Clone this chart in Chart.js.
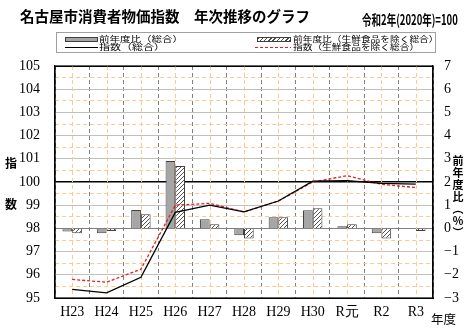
<!DOCTYPE html>
<html><head><meta charset="utf-8">
<script src="https://cdn.jsdelivr.net/npm/chart.js@4"></script>
<style>
body{margin:0;background:#fff;}
#wrap{position:relative;width:473px;height:328px;overflow:hidden;font-family:"Noto Sans CJK JP",sans-serif;color:#000;}
canvas{position:absolute;left:0;top:0;}
.t{position:absolute;white-space:nowrap;line-height:1;}
#legend{position:absolute;left:56px;top:32px;width:378px;height:19px;border:1px solid #a0a0a0;background:#fff;}
.lt{position:absolute;font-size:10px;line-height:10px;white-space:nowrap;transform-origin:0 0;}
.sw{position:absolute;box-sizing:border-box;}
</style></head><body>
<div id="wrap">
<canvas id="c" width="473" height="328"></canvas>
<div class="t" style="left:20px;top:9px;font-size:14.5px;font-weight:bold;">名古屋市消費者物価指数　年次推移のグラフ</div>
<div class="t" style="left:362px;top:12px;font-size:14px;font-weight:bold;transform:scaleX(0.68);transform-origin:0 0;">令和2年(2020年)=100</div>
<div id="legend"></div>
<div class="t" style="left:5px;top:157px;font-size:12px;font-weight:bold;">指</div>
<div class="t" style="left:5px;top:198px;font-size:12px;font-weight:bold;">数</div>
<div class="t" style="left:452px;top:155px;writing-mode:vertical-rl;font-size:11px;font-weight:bold;line-height:11px;letter-spacing:1px;">前年度比（％）</div>
<div class="t" style="left:431px;top:313px;font-size:12.5px;">年度</div>
</div>
<script>
// ---- data ----
const categories = ['H23','H24','H25','H26','H27','H28','H29','H30','R元','R2','R3'];
const yoyTotal   = [-0.13, -0.21, 0.79, 2.90, 0.39, -0.30, 0.48, 0.78, 0.09, -0.21, 0.00];
const yoyCore    = [-0.21, -0.11, 0.61, 2.69, 0.18, -0.43, 0.48, 0.87, 0.18, -0.43, -0.11];
const idxTotal   = [95.37, 95.22, 95.89, 98.69, 99.00, 98.71, 99.18, 100.04, 100.06, 99.94, 99.91];
const idxCore    = [95.80, 95.68, 96.24, 99.00, 99.08, 98.71, 99.18, 100.00, 100.27, 99.90, 99.76];
const seriesNames = ['前年度比（総合）','前年度比（生鮮食品を除く総合）','指数（総合）','指数（生鮮食品を除く総合）'];
const leftTicks  = {min:95, max:105, step:0.5};
const rightTicks = {min:-3, max:7, step:1};

// hatch pattern
const pc = document.createElement('canvas'); pc.width = 4; pc.height = 4;
const px = pc.getContext('2d'); px.fillStyle = '#fff'; px.fillRect(0,0,4,4);
px.fillStyle = '#505050';
for (let i = 0; i < 4; i++) px.fillRect(i, 3 - i, 1, 1);

// legend (HTML)
const lg = document.getElementById('legend');
const items = [
  {x:8,  y:4,  sw:'left:0;top:0px;width:33px;height:5px;background:#a6a6a6;border:1px solid #404040;', name:seriesNames[0], tx:34, sc:'scale(1.05,0.82)'},
  {x:200,y:4,  sw:'left:0;top:0px;width:34px;height:5px;border:1px solid #404040;background:repeating-linear-gradient(135deg,#505050 0 1px,#fff 1px 3px);', name:seriesNames[1], tx:36, sc:'scale(0.97,0.82)'},
  {x:8,  y:12, sw:'left:0;top:2px;width:33px;height:1px;background:#000;', name:seriesNames[2], tx:34, sc:'scale(1.1,0.82)'},
  {x:198,y:12, sw:'left:0;top:2px;width:36px;height:1px;background:repeating-linear-gradient(90deg,#e02020 0 3px,transparent 3px 5px);', name:seriesNames[3], tx:38, sc:'scale(0.97,0.82)'}
];
items.forEach(it => {
  const s = document.createElement('div');
  s.style.cssText = 'position:absolute;left:' + it.x + 'px;top:' + it.y + 'px;';
  const sw = document.createElement('div'); sw.className = 'sw'; sw.style.cssText = it.sw;
  s.appendChild(sw);
  const tx = document.createElement('div'); tx.className = 'lt';
  tx.style.left = it.tx + 'px'; tx.style.top = '-2px'; tx.style.transform = it.sc;
  tx.textContent = it.name;
  s.appendChild(tx);
  lg.appendChild(s);
});

const isInt = v => Math.abs(v - Math.round(v)) < 1e-6;

const centerLines = {
  id: 'centerLines',
  beforeDatasetsDraw(chart) {
    const {ctx, chartArea, scales:{x}} = chart;
    ctx.save();
    ctx.strokeStyle = '#ffc890'; ctx.lineWidth = 1; ctx.setLineDash([4,3]);
    categories.forEach((c, i) => {
      const xp = Math.round(x.getPixelForValue(i)) + 0.5;
      ctx.beginPath(); ctx.moveTo(xp, chartArea.top); ctx.lineTo(xp, chartArea.bottom); ctx.stroke();
    });
    ctx.restore();
  },
  afterDatasetsDraw(chart) {
    const {ctx, chartArea:a} = chart;
    ctx.save(); ctx.strokeStyle = '#000'; ctx.lineWidth = 1.2; ctx.setLineDash([]);
    ctx.strokeRect(a.left, a.top, a.right - a.left, a.bottom - a.top);
    ctx.restore();
  }
};

Chart.defaults.color = '#000';
new Chart(document.getElementById('c'), {
  data: {
    labels: categories,
    datasets: [
      {type:'bar', label:seriesNames[0], data:yoyTotal, yAxisID:'y1', backgroundColor:'#a6a6a6', borderColor:'#404040', borderWidth:1, order:2, categoryPercentage:0.565, barPercentage:1},
      {type:'bar', label:seriesNames[1], data:yoyCore, yAxisID:'y1', backgroundColor:pc.getContext('2d').createPattern(pc,'repeat'), borderColor:'#404040', borderWidth:1, order:2, categoryPercentage:0.565, barPercentage:1},
      {type:'line', label:seriesNames[2], data:idxTotal, yAxisID:'y', borderColor:'#000', borderWidth:1.3, pointRadius:0, tension:0, order:0},
      {type:'line', label:seriesNames[3], data:idxCore, yAxisID:'y', borderColor:'#e02020', borderWidth:1.3, borderDash:[3,2], pointRadius:0, tension:0, order:1}
    ]
  },
  options: {
    responsive:false, animation:false,
    layout:{padding:{top:66,left:0,right:0,bottom:0}},
    plugins:{legend:{display:false}, tooltip:{enabled:false}},
    scales: {
      x: {
        type:'category', offset:true,
        grid:{offset:true, color:'#808080', lineWidth:1, drawTicks:false},
        border:{display:true, color:'#000', dash:[4,3]},
        ticks:{font:{family:'Liberation Serif', size:14}, padding:6, maxRotation:0, autoSkip:false},
        afterFit(s){ s.height = 30; }
      },
      y: {
        position:'left', min:leftTicks.min, max:leftTicks.max,
        grid:{
          drawTicks:false,
          color: c => { const v = c.tick ? c.tick.value : 0; if (Math.abs(v-100)<1e-6) return '#000'; if (Math.abs(v-98)<1e-6) return '#808080'; if (Math.abs(v-105)<1e-6) return '#000'; return isInt(v) ? '#c0c0c0' : '#ffc890'; },
          lineWidth: c => { const v = c.tick ? c.tick.value : 0; return Math.abs(v-100)<1e-6 ? 1.5 : 1; }
        },
        border:{display:true, color:'#000', width:1.2, dash: c => { const v = c.tick ? c.tick.value : 0; return (c.tick && !isInt(v)) ? [4,3] : []; }},
        ticks:{stepSize:leftTicks.step, autoSkip:false, padding:15, font:{family:'Liberation Serif', size:14}, callback: v => isInt(v) ? String(Math.round(v)) : ''},
        afterFit(s){ s.width = 55; }
      },
      y1: {
        position:'right', min:rightTicks.min, max:rightTicks.max,
        grid:{drawOnChartArea:false, drawTicks:false},
        border:{display:true, color:'#000', width:1.2},
        ticks:{stepSize:rightTicks.step, autoSkip:false, padding:11, font:{family:'Liberation Serif', size:14}, callback: v => v < 0 ? '\u2212' + Math.abs(v) : String(v)},
        afterFit(s){ s.width = 40; }
      }
    }
  },
  plugins:[centerLines]
});
</script>
</body></html>
